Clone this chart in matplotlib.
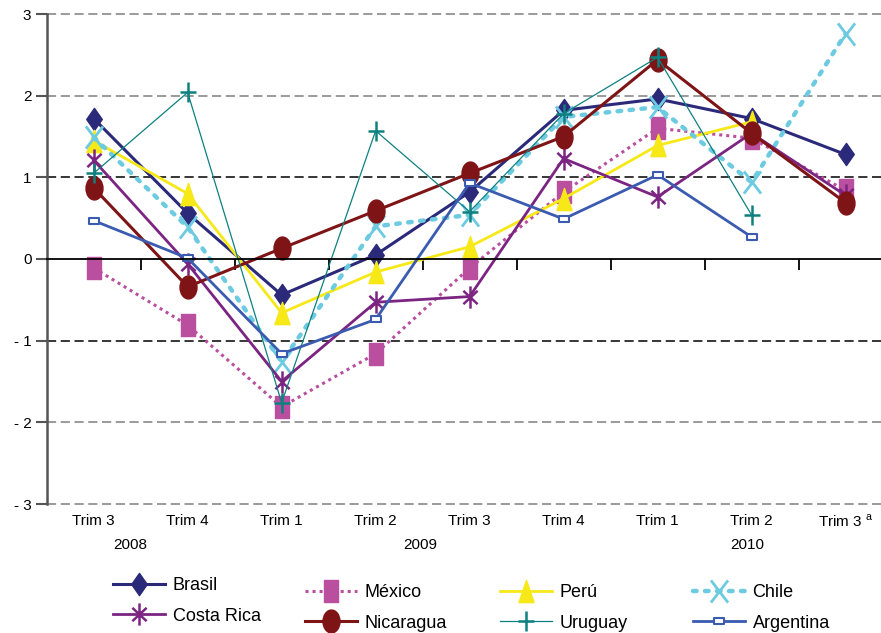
import matplotlib
matplotlib.use("Agg")
import numpy as np
import matplotlib.pyplot as plt
from matplotlib.path import Path
from matplotlib.transforms import Affine2D, blended_transform_factory

plt.rcParams['font.family'] = ['Liberation Sans', 'DejaVu Sans']
plt.rcParams['mathtext.fontset'] = 'custom'
plt.rcParams['mathtext.rm'] = 'Liberation Sans'

# data
quarters = ["Trim 3", "Trim 4", "Trim 1", "Trim 2", "Trim 3", "Trim 4",
            "Trim 1", "Trim 2", r"Trim 3 $^{\rm a}$"]
years = ["2008", "2009", "2010"]
year_pos = [0.39, 3.47, 6.95]

brasil = [1.72, 0.56, -0.44, 0.05, 0.82, 1.82, 1.96, 1.72, 1.28]
mexico = [-0.11, -0.81, -1.81, -1.16, -0.11, 0.82, 1.60, 1.48, 0.84]
peru = [1.45, 0.80, -0.66, -0.16, 0.15, 0.74, 1.39, 1.68]
chile = [1.49, 0.39, -1.26, 0.40, 0.54, 1.74, 1.86, 0.94, 2.76]
costa_rica = [1.21, -0.06, -1.50, -0.53, -0.46, 1.23, 0.76, 1.54, 0.78]
nicaragua = [0.87, -0.34, 0.13, 0.59, 1.05, 1.50, 2.44, 1.54, 0.69]
uruguay = [1.05, 2.04, -1.76, 1.57, 0.58, 1.78, 2.47, 0.54]
argentina = [0.47, 0.01, -1.16, -0.74, 0.93, 0.49, 1.03, 0.27]

yticks = [-3, -2, -1, 0, 1, 2, 3]
ytick_labels = ["- 3", "- 2", "- 1", "0", "1", "2", "3"]

# marker shapes (excel-like, a bit taller than wide)
M, L = Path.MOVETO, Path.LINETO
diamond = Path([(0, 1), (0.7, 0), (0, -1), (-0.7, 0), (0, 1)], closed=True)
tall_square = Path([(-0.63, -1), (0.63, -1), (0.63, 1), (-0.63, 1), (-0.63, -1)], closed=True)
triangle = Path([(0, 1), (0.68, -1), (-0.68, -1), (0, 1)], closed=True)
ellipse = Path.unit_circle().transformed(Affine2D().scale(0.74, 1))
x_mark = Path([(-0.77, -1), (0.77, 1), (-0.77, 1), (0.77, -1)], [M, L, M, L])
asterisk = Path([(0, -1), (0, 1), (-0.64, -0.6), (0.64, 0.6), (-0.64, 0.6), (0.64, -0.6)],
                [M, L, M, L, M, L])
plus = Path([(0, -1), (0, 1), (-0.75, 0), (0.75, 0)], [M, L, M, L])
small_rect = Path([(-1, -0.6), (1, -0.6), (1, 0.6), (-1, 0.6), (-1, -0.6)], closed=True)

fig = plt.figure(figsize=(8.81, 6.33), dpi=100)
ax = fig.add_axes([46.7 / 881, 129 / 633, (881 - 46.7) / 881, 490 / 633])

# gridlines
for y in [3, 2, -2, -3]:
    ax.axhline(y, color='#7f7f7f', lw=1.1, dashes=(6, 3), clip_on=False, zorder=0)
for y in [1, -1]:
    ax.axhline(y, color='black', lw=1.1, dashes=(6, 3), clip_on=False, zorder=0)


def xs(v):
    return np.arange(len(v))


h_brasil, = ax.plot(xs(brasil), brasil, color='#2b2a7a', lw=2.2, marker=diamond, ms=16,
                    label='Brasil')
h_mexico, = ax.plot(xs(mexico), mexico, color='#b94f9e', lw=2.2, dashes=(1, 1.3),
                    marker=tall_square, ms=16, mec='#b94f9e', label='México')
h_peru, = ax.plot(xs(peru), peru, color='#f7e817', lw=2, marker=triangle, ms=16,
                  label='Perú')
h_chile, = ax.plot(xs(chile), chile, color='#6ccbe0', lw=3.2, dashes=(0.8, 1.9),
                   dash_capstyle='round', marker=x_mark, ms=16, mew=2, mfc='none',
                   label='Chile')
h_costa, = ax.plot(xs(costa_rica), costa_rica, color='#7b2482', lw=2, marker=asterisk,
                   ms=16, mew=1.8, mfc='none', label='Costa Rica')
h_nica, = ax.plot(xs(nicaragua), nicaragua, color='#7f1416', lw=2.2, marker=ellipse,
                  ms=16.5, label='Nicaragua')
h_uru, = ax.plot(xs(uruguay), uruguay, color='#0e8080', lw=0.9, marker=plus, ms=14.5,
                 mew=1.8, mfc='none', label='Uruguay')
h_arg, = ax.plot(xs(argentina), argentina, color='#3a5bb0', lw=2, marker=small_rect,
                 ms=6.5, mfc='white', mew=1.5, label='Argentina')

ax.set_xlim(-0.5, (881 - 93.5) / 94)
ax.set_ylim(-3, 3)

for s in ['top', 'right']:
    ax.spines[s].set_visible(False)
ax.spines['left'].set_color('#555555')
ax.spines['left'].set_linewidth(1.8)
ax.spines['bottom'].set_position(('data', 0))
ax.spines['bottom'].set_color('black')
ax.spines['bottom'].set_linewidth(1.3)

ax.set_xticks(np.arange(len(quarters) - 1) + 0.5)
ax.tick_params(axis='x', direction='out', length=8, width=1.3, labelbottom=False)
ax.set_yticks(yticks)
ax.set_yticklabels(ytick_labels)
ax.tick_params(axis='y', direction='out', length=8, width=1.5, color='#555555',
               labelsize=11, pad=3)

# category labels under the plot
trans = blended_transform_factory(ax.transData, fig.transFigure)
for i, q in enumerate(quarters):
    ax.text(i, 1 - 521 / 633, q, transform=trans, ha='center', va='center', fontsize=11)
for x, yr in zip(year_pos, years):
    ax.text(x, 1 - 545 / 633, yr, transform=trans, ha='center', va='center', fontsize=11)

# legend, one block per column
columns = [([h_brasil, h_costa], 113, 577), ([h_mexico, h_nica], 305, 584),
           ([h_peru, h_uru], 500, 584), ([h_chile, h_arg], 693, 584)]
for handles, x0, y0 in columns:
    fig.legend(handles=handles, loc='upper left', bbox_to_anchor=(x0 / 881, 1 - y0 / 633),
               frameon=False, fontsize=13, handlelength=2.9, handletextpad=0.4,
               borderpad=0, borderaxespad=0, labelspacing=0.75, numpoints=1)

fig.savefig('out.png', dpi=100)
